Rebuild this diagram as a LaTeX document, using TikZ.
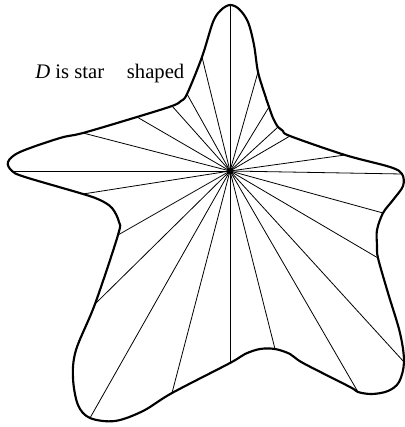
\documentclass[tikz,border=0pt]{standalone}
\usepackage{fontspec}
\setmainfont{Liberation Serif}
\usepackage{tikz}

\begin{document}
\begin{tikzpicture}[x=0.75pt, y=-0.75pt, font=\fontsize{15.5}{18}\selectfont,
    rand/.style={line width=1.6pt, line join=round},
    strahl/.style={line width=0.6pt}]
	%Bildbereich
	\useasboundingbox (0,0) rectangle (404,427);
	% Mittelpunkt
	\coordinate (M) at (230,171);
	% Endpunkte der Strahlen auf dem Rand
	\foreach \x/\y [count=\i] in {230/5, 258/72, 269/107, 278/127, 290/136, 345/155,
	    402/174, 383/213, 378/258, 404/362, 358/392, 275/349, 230/363, 172/393,
	    90/418, 95/304, 118/235, 83/194, 12/171, 83/133, 137/117, 172/106,
	    187/94, 202/57}
	    \coordinate (r\i) at (\x,\y);
	% Strahlen zeichnen
	\foreach \i in {1,...,24} \draw[strahl] (M) -- (r\i);
	\fill (M) circle (2.6);
	% Rand zeichnen
	\draw[rand] plot[smooth cycle, tension=0.55] coordinates {
	    (r1) (239,9) (248,22) (254,45) (r2) (265,95) (r3) (273,118) (r4) (283,131)
	    (r5) (r6) (390,167) (r7) (403,186) (393,200) (r8) (377,230) (377,245) (r9)
	    (388,293) (400,333) (r10) (399,382) (388,391) (372,394) (r11) (350,387)
	    (303,363) (290,354) (r12) (260,349) (245,354) (r13) (r14) (143,411)
	    (115,421) (r15) (78,405) (73,378) (76,350) (r16) (r17) (119,222) (112,208)
	    (100,200) (r18) (25,177) (r19) (8,162) (20,152) (60,138) (r20) (r21) (r22)
	    (181,101) (r23) (r24) (213,22) (221,10)};
	%Beschriftung
	\node[anchor=base west, inner sep=0pt] (titel) at (35,79) {\textit{D} is star\hspace{1.1em}shaped};
\end{tikzpicture}
\end{document}
